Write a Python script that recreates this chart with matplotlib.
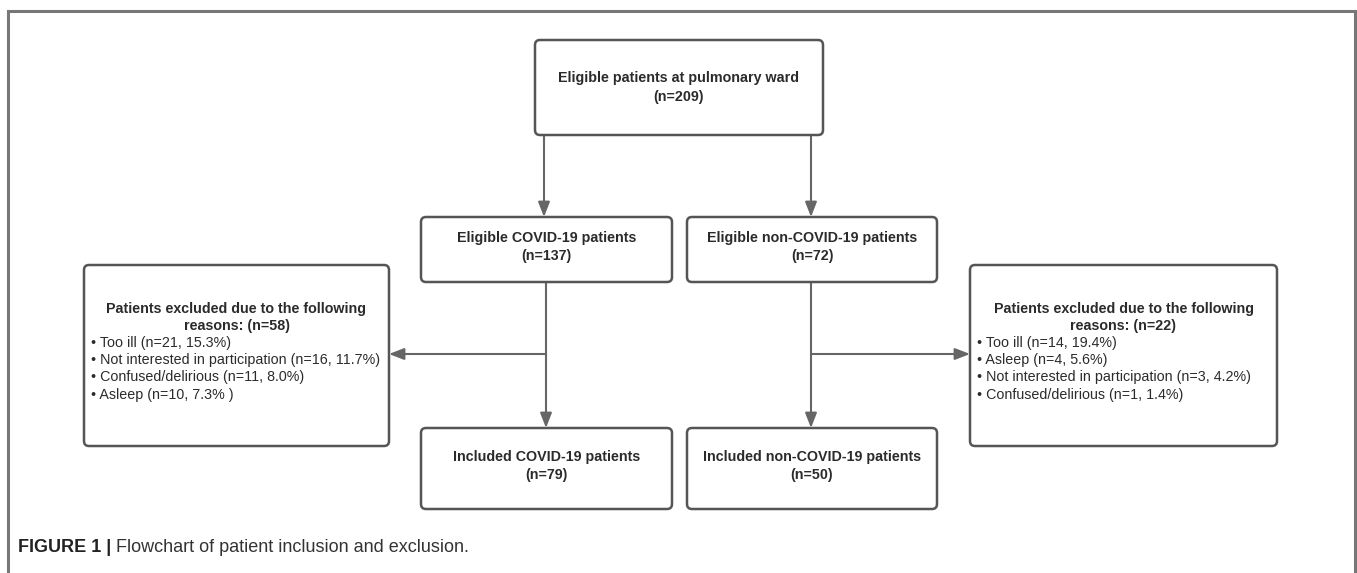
import matplotlib
matplotlib.use("Agg")
import matplotlib.pyplot as plt
from matplotlib.patches import FancyBboxPatch

plt.rcParams['font.family'] = ['Liberation Sans', 'DejaVu Sans']

# flowchart content
top_title = "Eligible patients at pulmonary ward"
top_n = 209
group_names = ["COVID-19", "non-COVID-19"]
eligible_n = [137, 72]
included_n = [79, 50]
excluded_n = [58, 22]
excluded_reasons = [
    ["Too ill (n=21, 15.3%)",
     "Not interested in participation (n=16, 11.7%)",
     "Confused/delirious (n=11, 8.0%)",
     "Asleep (n=10, 7.3% )"],
    ["Too ill (n=14, 19.4%)",
     "Asleep (n=4, 5.6%)",
     "Not interested in participation (n=3, 4.2%)",
     "Confused/delirious (n=1, 1.4%)"],
]
caption_bold = "FIGURE 1 |"
caption_text = " Flowchart of patient inclusion and exclusion."

W, H = 1357, 573
fig = plt.figure(figsize=(W / 100, H / 100), dpi=100)
ax = fig.add_axes([0, 0, 1, 1])
ax.set_xlim(0, W)
ax.set_ylim(H, 0)
ax.axis("off")

edge = "#555555"
txt = "#2b2b2b"
arrow_c = "#666666"
fs = 10.3

def box(x0, y0, x1, y1):
    p = FancyBboxPatch((x0, y0), x1 - x0, y1 - y0,
                       boxstyle="round,pad=0,rounding_size=5",
                       fc="white", ec=edge, lw=1.8, zorder=2)
    ax.add_patch(p)

def arrow(x0, y0, x1, y1):
    ax.annotate("", xy=(x1, y1), xytext=(x0, y0),
                arrowprops=dict(arrowstyle="-|>,head_length=0.9,head_width=0.35",
                                color=arrow_c, lw=1.5, shrinkA=0, shrinkB=0),
                zorder=1)

# outer frame
ax.plot([8, 8, 1355, 1355], [573, 11, 11, 573], color="#777777", lw=2.2,
        solid_joinstyle="miter", clip_on=False)

# top box
box(535, 40, 823, 135)
ax.text(679, 78, top_title, ha="center", va="center", fontsize=fs,
        fontweight="bold", color=txt)
ax.text(679, 97, "(n=%d)" % top_n, ha="center", va="center", fontsize=fs,
        fontweight="bold", color=txt)

col_x = [(421, 672), (687, 937)]
stem_x = [546, 811]
top_stem = [544, 811]
excl_box = [(84, 389), (970, 1277)]

for i in range(2):
    x0, x1 = col_x[i]
    cx = (x0 + x1) / 2
    arrow(top_stem[i], 135, top_stem[i], 217)
    box(x0, 217, x1, 282)
    ax.text(cx, 238, "Eligible %s patients" % group_names[i], ha="center",
            va="center", fontsize=fs, fontweight="bold", color=txt)
    ax.text(cx, 256, "(n=%d)" % eligible_n[i], ha="center", va="center",
            fontsize=fs, fontweight="bold", color=txt)

    arrow(stem_x[i], 282, stem_x[i], 428)
    box(x0, 428, x1, 509)
    ax.text(cx, 457, "Included %s patients" % group_names[i], ha="center",
            va="center", fontsize=fs, fontweight="bold", color=txt)
    ax.text(cx, 475, "(n=%d)" % included_n[i], ha="center", va="center",
            fontsize=fs, fontweight="bold", color=txt)

    # exclusion box
    ex0, ex1 = excl_box[i]
    box(ex0, 265, ex1, 446)
    if i == 0:
        arrow(stem_x[i], 354, ex1, 354)
    else:
        arrow(stem_x[i], 354, ex0, 354)
    ecx = (ex0 + ex1) / 2
    ax.text(ecx, 309, "Patients excluded due to the following", ha="center",
            va="center", fontsize=fs, fontweight="bold", color=txt)
    ax.text(ecx, 326, "reasons: (n=%d)" % excluded_n[i], ha="center",
            va="center", fontsize=fs, fontweight="bold", color=txt)
    for k, r in enumerate(excluded_reasons[i]):
        ax.text(ex0 + 7, 343 + 17.2 * k, "\u2022 " + r, ha="left", va="center",
                fontsize=fs, color=txt)

# caption
t = ax.text(18, 547, caption_bold, ha="left", va="center", fontsize=13,
            fontweight="bold", color="#222222")
fig.canvas.draw()
bb = t.get_window_extent()
x_end = ax.transData.inverted().transform((bb.x1, bb.y0))[0]
ax.text(x_end, 547, caption_text, ha="left", va="center", fontsize=13,
        color="#333333")

fig.savefig("out.png", dpi=100, facecolor="white")
